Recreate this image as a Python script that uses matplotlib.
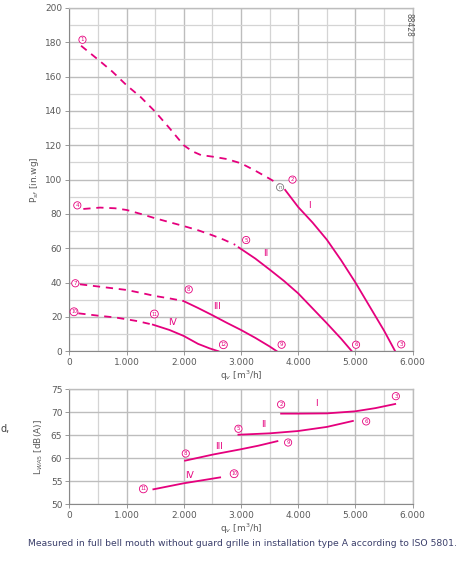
import matplotlib
matplotlib.use("Agg")
import matplotlib.pyplot as plt
from matplotlib.ticker import FuncFormatter, MultipleLocator

MAG = "#e5007d"
GRID_MAJ = "#bdbdbd"
GRID_MIN = "#d4d4d4"
TXT = "#5a5a5a"

# ---------------- pressure curves (q in m3/h, P) ----------------
c1_dash_q = [205, 500, 750, 1000, 1250, 1500, 1750, 2000, 2150, 2300, 2500, 2750, 3000, 3250, 3500, 3700]
c1_dash_p = [178, 170, 163, 155, 148, 139.6, 130, 120, 116.5, 114.3, 113.4, 112, 109.5, 105.2, 100.5, 96.5]
c1_sol_q = [3771, 4000, 4250, 4500, 4750, 5000, 5250, 5500, 5694]
c1_sol_p = [94, 84, 75, 65, 53, 40, 26, 12, 0]

c2_dash_q = [245, 537, 800, 1003, 1250, 1498, 1750, 1993, 2250, 2490, 2700, 2900]
c2_dash_p = [82.9, 83.7, 83.3, 82.3, 80, 77.5, 75.2, 73, 70.5, 67.7, 65, 62]
c2_sol_q = [2960, 3250, 3500, 3750, 4000, 4250, 4500, 4750, 4937]
c2_sol_p = [60.5, 54, 47.6, 41, 33.7, 25, 16.3, 7.3, 0]

c3_dash_q = [187, 537, 1003, 1250, 1498, 1750, 1993]
c3_dash_p = [39, 37.6, 35.7, 34, 32.2, 30.8, 29.3]
c3_sol_q = [1993, 2250, 2500, 2750, 3000, 3250, 3500, 3626]
c3_sol_p = [29.3, 25.2, 21, 16.6, 12.4, 7.8, 2.8, 0]

c4_dash_q = [158, 537, 800, 1003, 1200, 1353, 1460]
c4_dash_p = [22.1, 20.6, 19.7, 18.6, 17.5, 16.3, 15.5]
c4_sol_q = [1460, 1750, 2000, 2250, 2450, 2605]
c4_sol_p = [15.5, 12.4, 8.9, 4.3, 1.7, 0]

# ---------------- sound power curves ----------------
s1_q = [3701, 4000, 4500, 4995, 5350, 5694]
s1_l = [69.7, 69.7, 69.75, 70.2, 70.9, 71.8]
s2_q = [2955, 3500, 3993, 4500, 4955]
s2_l = [65.1, 65.4, 65.9, 66.8, 68.1]
s3_q = [2023, 2518, 2985, 3300, 3636]
s3_l = [59.45, 60.8, 61.9, 62.7, 63.7]
s4_q = [1469, 1993, 2635]
s4_l = [53.2, 54.5, 55.8]

# operating point markers (label, q, value)
top_points = [("1", 230, 181.5), ("2", 3900, 100), ("3", 5800, 4), ("4", 140, 85),
              ("5", 3090, 64.8), ("6", 5010, 3.8), ("7", 105, 39.6), ("8", 2087, 36),
              ("9", 3710, 3.8), ("10", 82, 23), ("11", 1486, 21.7), ("12", 2692, 3.8)]
bot_points = [("2", 3701, 71.7), ("3", 5706, 73.5), ("5", 2955, 66.4), ("6", 5187, 68),
              ("8", 2035, 61), ("9", 3823, 63.4), ("10", 2880, 56.6), ("11", 1294, 53.3)]
top_curve_labels = [("I", 4196, 85), ("II", 3434, 56.7), ("III", 2582, 26.2), ("IV", 1801, 16.5)]
bot_curve_labels = [("I", 4325, 71.9), ("II", 3392, 67.4), ("III", 2617, 62.5), ("IV", 2093, 56.3)]

x_ticks = [0, 1000, 2000, 3000, 4000, 5000, 6000]

fig = plt.figure(figsize=(4.68, 5.62), dpi=100)
ax1 = fig.add_axes([0.1481, 0.375, 0.7337, 0.6108])
ax2 = fig.add_axes([0.1481, 0.1032, 0.7337, 0.2041])

fmt = FuncFormatter(lambda v, p: "0" if v == 0 else f"{int(v)//1000}.{int(v)%1000:03d}")


def style(ax, ymaj, ymin):
    ax.set_xlim(0, 6000)
    ax.set_xticks(x_ticks)
    ax.xaxis.set_major_formatter(fmt)
    ax.xaxis.set_minor_locator(MultipleLocator(500))
    ax.yaxis.set_major_locator(MultipleLocator(ymaj))
    ax.yaxis.set_minor_locator(MultipleLocator(ymin))
    ax.grid(which="major", color=GRID_MAJ, lw=1.0)
    ax.grid(which="minor", color=GRID_MIN, lw=0.9)
    ax.set_axisbelow(True)
    for s in ax.spines.values():
        s.set_color(GRID_MAJ)
        s.set_linewidth(1.0)
    ax.spines["left"].set_color("#888888")
    ax.spines["left"].set_linewidth(0.8)
    ax.spines["bottom"].set_color("#888888")
    ax.spines["bottom"].set_linewidth(0.8)
    ax.tick_params(which="major", length=3, width=0.6, color="#888888",
                   labelsize=6.5, labelcolor=TXT, pad=2)
    ax.tick_params(which="minor", length=0)


style(ax1, 20, 10)
ax1.set_ylim(0, 200)
style(ax2, 5, 5)
ax2.set_ylim(50, 75)

dash = dict(color=MAG, lw=1.3, dashes=(4, 3.2))
sol = dict(color=MAG, lw=1.3)
for dq, dp, sq, sp in [(c1_dash_q, c1_dash_p, c1_sol_q, c1_sol_p),
                       (c2_dash_q, c2_dash_p, c2_sol_q, c2_sol_p),
                       (c3_dash_q, c3_dash_p, c3_sol_q, c3_sol_p),
                       (c4_dash_q, c4_dash_p, c4_sol_q, c4_sol_p)]:
    ax1.plot(dq, dp, **dash)
    ax1.plot(sq, sp, **sol)

for q, l in [(s1_q, s1_l), (s2_q, s2_l), (s3_q, s3_l), (s4_q, s4_l)]:
    ax2.plot(q, l, **sol)


def circ(ax, txt, x, y, color=MAG):
    ax.text(x, y, txt, fontsize=4 if len(txt) < 2 else 3.4, color=color, ha="center",
            va="center", bbox=dict(boxstyle="circle,pad=0.2", fc="white", ec=color, lw=0.6))


for t, x, y in top_points:
    circ(ax1, t, x, y)
for t, x, y in bot_points:
    circ(ax2, t, x, y)
circ(ax1, "n", 3683, 95.5, color="#777777")

for t, x, y in top_curve_labels:
    ax1.text(x, y, t, color=MAG, fontsize=6.5, ha="center", va="center")
for t, x, y in bot_curve_labels:
    ax2.text(x, y, t, color=MAG, fontsize=6.5, ha="center", va="center")

ax1.set_ylabel("P$_{sf}$ [in.wg]", fontsize=6.5, color=TXT, labelpad=3)
ax1.set_xlabel("q$_{v}$ [m$^3$/h]", fontsize=6.5, color=TXT, labelpad=1)
ax2.set_ylabel("L$_{WA5}$ [dB(A)]", fontsize=6.5, color=TXT, labelpad=4)
ax2.set_xlabel("q$_{v}$ [m$^3$/h]", fontsize=6.5, color=TXT, labelpad=1)

ax1.text(0.988, 0.985, "88428", transform=ax1.transAxes, rotation=270, fontsize=5.5,
         color=TXT, ha="center", va="top")

fig.text(0.002, 0.237, "d,", fontsize=7, color="#444444", ha="left", va="center")
fig.text(0.517, 0.033, "Measured in full bell mouth without guard grille in installation type A according to ISO 5801.",
         fontsize=6.65, color="#3b3f6b", ha="center", va="center")

fig.savefig("out.png", dpi=100)
